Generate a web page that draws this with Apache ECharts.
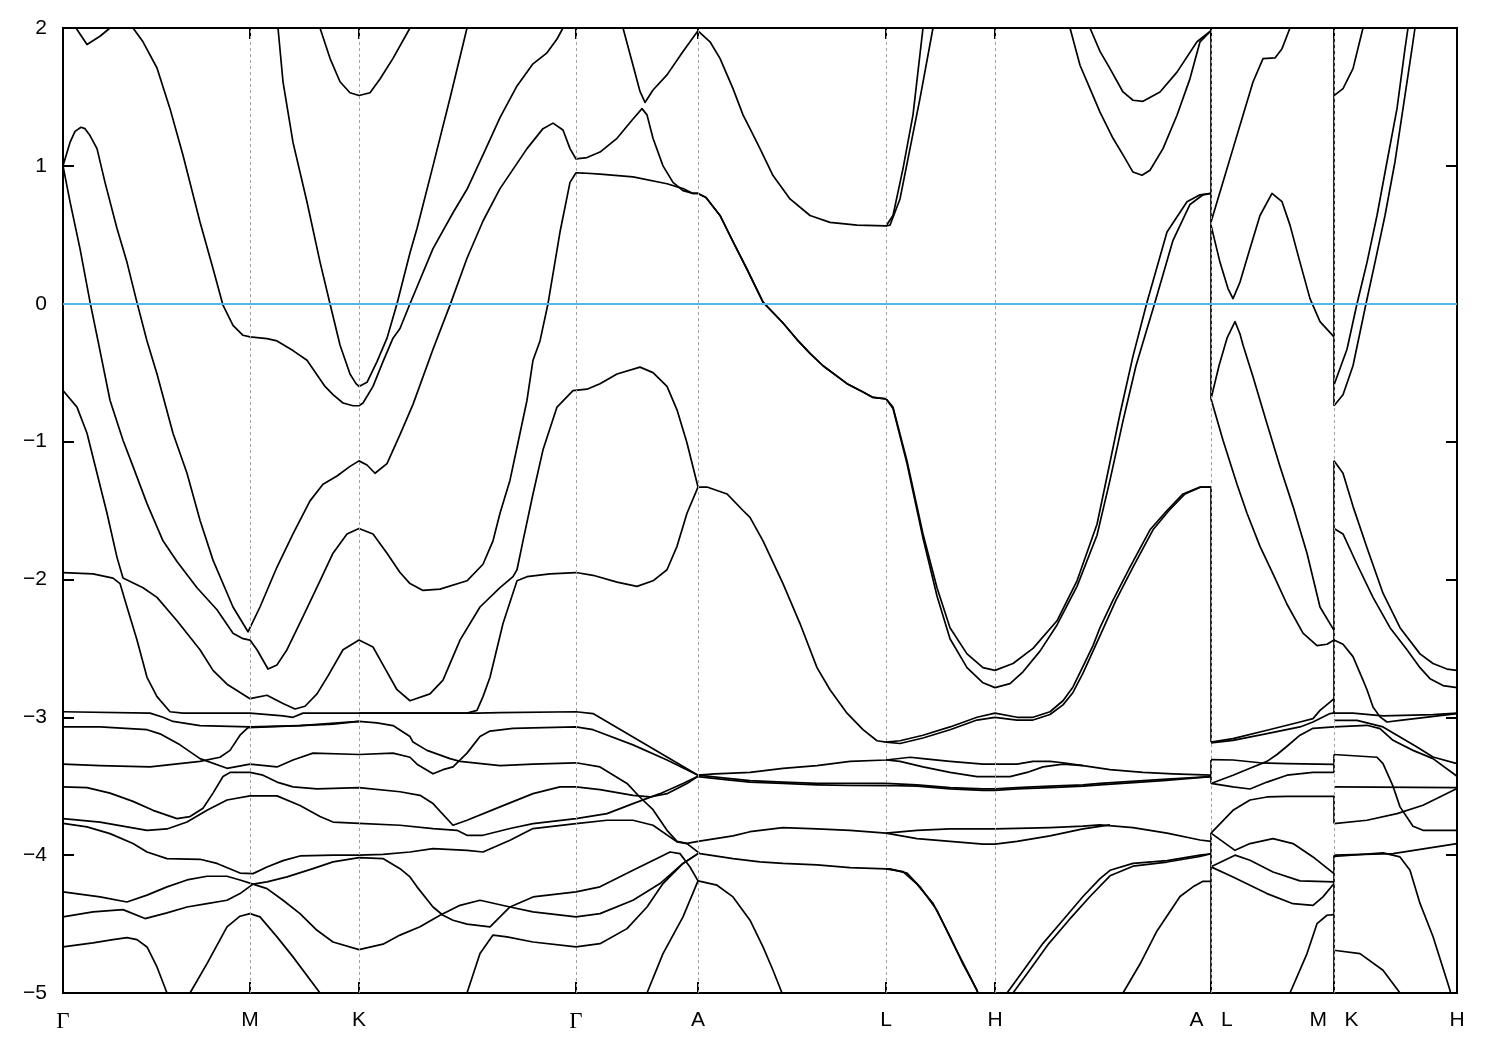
<!DOCTYPE html>
<html><head><meta charset="utf-8">
<script src="https://cdn.jsdelivr.net/npm/echarts/dist/echarts.min.js"></script>
<style>html,body{margin:0;padding:0;background:#fff}#c{width:1500px;height:1050px}</style>
</head><body><div id="c"></div>
<script>
// k-path positions (arb. units) and labels
const kTicks = [0,187,296,513,635,823,932,1148,1271,1394];
const kLabels = ['Γ','M','K','Γ','A','L','H','A   L','M   K','H'];
const eMin = -5, eMax = 2, eStep = 1;

// ---- band strands: [k, E(eV)] ----
const U1 = [[5,2.2],[13,2.0],[24,1.88],[37,1.94],[47,2.0],[55,2.15]];
const U2 = [[0,1.0],[7,1.17],[12,1.25],[18,1.28],[22,1.27],[27,1.22],[34,1.125],[42,0.88],[54,0.545],[64,0.30],[74,0.008],[84,-0.27],[94,-0.51],[110,-0.94],[124,-1.23],[137,-1.57],[150,-1.86],[170,-2.20],[185,-2.38],[187,-2.38],[197,-2.20],[214,-1.91],[230,-1.67],[247,-1.43],[260,-1.31],[274,-1.25],[287,-1.18],[296,-1.14],[304,-1.17],[312,-1.23],[324,-1.16],[337,-0.95],[350,-0.73],[370,-0.33],[387,-0.01],[404,0.33],[420,0.60],[437,0.835],[464,1.125],[480,1.27],[490,1.31],[500,1.26],[507,1.125],[513,1.05],[524,1.06],[537,1.10],[554,1.20],[570,1.34],[579,1.415],[584,1.37],[590,1.20],[600,1.00],[610,0.88],[620,0.82],[630,0.80],[635,0.80],[643,0.77],[657,0.64],[670,0.45],[684,0.25],[700,0.012],[720,-0.14],[734,-0.26],[747,-0.36],[760,-0.45],[784,-0.58],[800,-0.64],[810,-0.68],[823,-0.69],[830,-0.75],[844,-1.14],[860,-1.67],[874,-2.06],[887,-2.35],[904,-2.54],[920,-2.64],[932,-2.66],[950,-2.61],[970,-2.50],[994,-2.30],[1014,-2.01],[1034,-1.60],[1047,-1.15],[1057,-0.80],[1070,-0.38],[1084,0.01],[1104,0.52],[1124,0.74],[1137,0.79],[1148,0.80]];
const U3 = [[0,1.0],[7,0.74],[17,0.40],[27,0.013],[35,-0.27],[47,-0.70],[60,-0.99],[70,-1.18],[84,-1.45],[100,-1.72],[114,-1.87],[134,-2.06],[154,-2.22],[170,-2.39],[180,-2.43],[187,-2.44],[194,-2.51],[205,-2.65],[214,-2.62],[224,-2.51],[240,-2.27],[257,-2.01],[270,-1.81],[284,-1.67],[296,-1.63],[310,-1.67],[324,-1.81],[337,-1.95],[347,-2.03],[360,-2.08],[377,-2.07],[404,-2.01],[420,-1.89],[430,-1.72],[437,-1.52],[447,-1.28],[457,-0.94],[464,-0.70],[470,-0.41],[477,-0.27],[485,0.0],[497,0.52],[507,0.88],[513,0.95],[520,0.948],[537,0.94],[570,0.92],[604,0.87],[620,0.835],[630,0.80],[635,0.80],[643,0.77],[657,0.64],[670,0.45],[684,0.25],[700,0.012],[720,-0.14],[734,-0.26],[747,-0.36],[760,-0.45],[784,-0.58],[800,-0.64],[810,-0.68],[823,-0.69],[830,-0.76],[844,-1.16],[860,-1.70],[874,-2.12],[887,-2.43],[904,-2.64],[920,-2.75],[932,-2.785],[947,-2.756],[960,-2.67],[977,-2.52],[994,-2.33],[1014,-2.05],[1034,-1.68],[1047,-1.28],[1060,-0.85],[1073,-0.45],[1092,0.01],[1110,0.46],[1127,0.72],[1140,0.79],[1148,0.80]];
const U4 = [[65,2.15],[70,2.0],[80,1.90],[94,1.71],[107,1.415],[120,1.077],[137,0.593],[150,0.255],[160,-0.011],[170,-0.157],[180,-0.229],[187,-0.241],[204,-0.253],[214,-0.27],[230,-0.34],[244,-0.41],[262,-0.60],[270,-0.66],[280,-0.72],[290,-0.74],[296,-0.74],[300,-0.72],[310,-0.60],[320,-0.42],[330,-0.25],[337,-0.18],[347,0.0],[370,0.40],[390,0.66],[404,0.83],[420,1.08],[437,1.35],[454,1.58],[470,1.74],[484,1.82],[494,1.92],[500,2.0],[505,2.1]];
const U5 = [[213,2.15],[215,2.0],[220,1.61],[230,1.17],[244,0.738],[257,0.303],[267,0.0],[277,-0.30],[287,-0.51],[293,-0.58],[296,-0.60],[304,-0.57],[314,-0.42],[324,-0.25],[334,0.0],[337,0.085],[347,0.37],[354,0.545],[370,1.00],[387,1.49],[399,1.85],[404,2.0],[406,2.1]];
const U6 = [[255,2.1],[257,2.0],[267,1.78],[277,1.61],[287,1.53],[296,1.51],[307,1.53],[317,1.63],[330,1.78],[347,2.0],[350,2.1]];
const U7 = [[558,2.1],[560,2.0],[570,1.73],[577,1.54],[582,1.46],[590,1.55],[604,1.66],[620,1.83],[635,1.98],[647,1.90],[657,1.78],[670,1.56],[680,1.37],[687,1.27],[697,1.125],[710,0.93],[727,0.76],[747,0.64],[767,0.59],[794,0.57],[823,0.564],[830,0.64],[840,0.98],[850,1.37],[860,2.0],[862,2.1]];
const U8 = [[823,0.564],[827,0.57],[837,0.76],[847,1.125],[857,1.49],[870,2.0],[872,2.1]];
const U9 = [[1025,2.1],[1027,2.0],[1037,1.83],[1047,1.705],[1060,1.536],[1070,1.476],[1080,1.468],[1097,1.536],[1114,1.68],[1134,1.90],[1148,1.98]];
const U10 = [[1005,2.1],[1007,2.0],[1017,1.73],[1027,1.56],[1037,1.39],[1050,1.20],[1060,1.08],[1070,0.955],[1079,0.932],[1087,0.968],[1100,1.125],[1114,1.367],[1127,1.633],[1137,1.90],[1148,1.98]];
const N1 = [[1148,0.593],[1160,0.883],[1170,1.125],[1180,1.367],[1190,1.608],[1200,1.778],[1212,1.783],[1219,1.85],[1227,2.0],[1229,2.1]];
const N2 = [[1148,0.57],[1157,0.30],[1165,0.11],[1170,0.037],[1177,0.157],[1187,0.40],[1197,0.64],[1209,0.80],[1219,0.74],[1227,0.57],[1237,0.30],[1247,0.037],[1257,-0.13],[1271,-0.24]];
const N3 = [[1148,-0.69],[1156,-0.45],[1164,-0.25],[1172,-0.13],[1177,-0.22],[1180,-0.30],[1190,-0.53],[1204,-0.87],[1217,-1.18],[1230,-1.47],[1244,-1.81],[1257,-2.20],[1271,-2.37]];
const N4 = [[1148,-0.69],[1160,-0.99],[1174,-1.31],[1184,-1.52],[1197,-1.76],[1210,-1.96],[1224,-2.18],[1240,-2.39],[1254,-2.48],[1264,-2.47],[1271,-2.44]];
const K1 = [[1271,1.51],[1280,1.56],[1290,1.705],[1300,2.0],[1302,2.1]];
const K2 = [[1271,-0.59],[1277,-0.47],[1284,-0.33],[1294,0.0],[1304,0.30],[1314,0.64],[1324,1.03],[1334,1.415],[1342,1.85],[1345,2.0],[1346,2.1]];
const K3 = [[1271,-0.74],[1280,-0.66],[1290,-0.45],[1303,0.0],[1312,0.30],[1322,0.64],[1332,1.03],[1340,1.415],[1349,1.85],[1352,2.0],[1353,2.1]];
const K4 = [[1271,-1.14],[1280,-1.23],[1290,-1.47],[1304,-1.77],[1320,-2.10],[1337,-2.35],[1357,-2.54],[1370,-2.61],[1384,-2.65],[1394,-2.66]];
const K5 = [[1271,-1.63],[1280,-1.67],[1294,-1.89],[1310,-2.13],[1327,-2.35],[1344,-2.51],[1357,-2.64],[1367,-2.72],[1380,-2.77],[1394,-2.785]];
const K6 = [[1271,-2.44],[1280,-2.47],[1290,-2.56],[1300,-2.73],[1304,-2.80],[1310,-2.925],[1317,-2.997],[1324,-3.034],[1337,-3.022],[1394,-2.973]];
const A1 = [[635,-1.33],[644,-1.33],[664,-1.38],[680,-1.50],[687,-1.55],[700,-1.72],[720,-2.03],[737,-2.32],[754,-2.64],[767,-2.80],[784,-2.97],[800,-3.09],[814,-3.17],[823,-3.18],[837,-3.17],[860,-3.13],[887,-3.07],[914,-3.0],[932,-2.97],[954,-3.0],[970,-3.0],[987,-2.96],[1000,-2.88],[1010,-2.78],[1020,-2.63],[1030,-2.48],[1037,-2.35],[1050,-2.15],[1067,-1.91],[1087,-1.64],[1104,-1.50],[1120,-1.38],[1137,-1.33],[1148,-1.33]];
const A2 = [[823,-3.18],[837,-3.19],[860,-3.15],[887,-3.09],[914,-3.02],[932,-3.0],[954,-3.02],[970,-3.02],[987,-2.98],[1000,-2.91],[1010,-2.82],[1020,-2.68],[1030,-2.52],[1040,-2.36],[1053,-2.15],[1070,-1.91],[1090,-1.64],[1106,-1.50],[1122,-1.38],[1138,-1.33],[1148,-1.33]];
const L1 = [[0,-1.95],[30,-1.96],[50,-1.99],[57,-2.03],[64,-2.20],[74,-2.44],[84,-2.71],[94,-2.85],[107,-2.96],[120,-2.97],[187,-2.97],[220,-2.99],[230,-3.0],[240,-2.97],[296,-2.97],[337,-2.97],[404,-2.97],[414,-2.95],[420,-2.85],[427,-2.71],[440,-2.32],[454,-2.01],[464,-1.98],[487,-1.96],[513,-1.95],[530,-1.97],[554,-2.02],[574,-2.05],[590,-2.01],[604,-1.93],[614,-1.76],[624,-1.52],[635,-1.33]];
const L2 = [[0,-0.63],[14,-0.75],[24,-0.94],[34,-1.23],[44,-1.52],[54,-1.84],[60,-1.99],[80,-2.06],[94,-2.13],[114,-2.30],[137,-2.51],[150,-2.66],[164,-2.76],[187,-2.865],[204,-2.84],[220,-2.90],[232,-2.94],[242,-2.92],[254,-2.83],[265,-2.70],[280,-2.51],[296,-2.44],[310,-2.49],[320,-2.62],[334,-2.80],[347,-2.88],[367,-2.83],[380,-2.73],[397,-2.44],[417,-2.20],[437,-2.06],[450,-1.98],[454,-1.93],[460,-1.72],[470,-1.38],[480,-1.06],[494,-0.75],[510,-0.63],[524,-0.62],[537,-0.58],[554,-0.51],[577,-0.46],[590,-0.50],[604,-0.60],[614,-0.77],[624,-1.01],[635,-1.33]];
const L3 = [[0,-2.96],[87,-2.97],[100,-3.0],[110,-3.03],[137,-3.06],[187,-3.07],[237,-3.06],[270,-3.05],[296,-3.03],[314,-3.04],[330,-3.06],[347,-3.14],[350,-3.18],[364,-3.24],[387,-3.30],[397,-3.32],[437,-3.35],[470,-3.34],[513,-3.33],[537,-3.36],[564,-3.48],[577,-3.58],[590,-3.67],[604,-3.82],[614,-3.90],[624,-3.915],[635,-3.90],[670,-3.86],[687,-3.83],[720,-3.80],[754,-3.81],[787,-3.82],[823,-3.84],[854,-3.82],[887,-3.81],[932,-3.81],[987,-3.80],[1020,-3.79],[1037,-3.78],[1070,-3.80],[1104,-3.84],[1137,-3.89],[1148,-3.90]];
const L4 = [[0,-3.07],[37,-3.07],[84,-3.09],[97,-3.12],[117,-3.20],[137,-3.30],[164,-3.37],[187,-3.34],[214,-3.36],[230,-3.31],[250,-3.26],[296,-3.27],[330,-3.26],[347,-3.29],[354,-3.34],[370,-3.41],[380,-3.38],[390,-3.36],[404,-3.26],[417,-3.14],[427,-3.10],[450,-3.08],[470,-3.077],[513,-3.07],[530,-3.09],[570,-3.20],[604,-3.31],[635,-3.42]];
const L5 = [[0,-3.34],[37,-3.35],[87,-3.36],[137,-3.32],[157,-3.29],[167,-3.24],[177,-3.13],[185,-3.075],[187,-3.07],[237,-3.06],[296,-3.03]];
const L13 = [[296,-2.97],[414,-2.97],[437,-2.966],[513,-2.96],[530,-2.973],[570,-3.143],[604,-3.288],[635,-3.42]];
const L6 = [[0,-3.505],[24,-3.51],[47,-3.55],[70,-3.61],[90,-3.675],[114,-3.735],[127,-3.72],[140,-3.66],[150,-3.55],[160,-3.43],[167,-3.40],[187,-3.40],[200,-3.42],[214,-3.47],[230,-3.505],[254,-3.52],[296,-3.51],[337,-3.54],[357,-3.566],[370,-3.626],[390,-3.783],[404,-3.747],[437,-3.65],[470,-3.554],[497,-3.505],[513,-3.505],[537,-3.525],[570,-3.566],[587,-3.578],[604,-3.554],[624,-3.481],[635,-3.428]];
const L7 = [[0,-3.735],[37,-3.76],[64,-3.795],[84,-3.82],[104,-3.81],[124,-3.76],[144,-3.675],[164,-3.60],[187,-3.57],[214,-3.57],[237,-3.64],[257,-3.72],[270,-3.76],[296,-3.77],[337,-3.783],[370,-3.807],[394,-3.82],[404,-3.856],[420,-3.856],[447,-3.807],[470,-3.771],[513,-3.735],[544,-3.699],[570,-3.626],[597,-3.554],[620,-3.481],[635,-3.428]];
const L8 = [[0,-3.77],[24,-3.795],[47,-3.844],[70,-3.916],[84,-3.977],[104,-4.025],[137,-4.03],[154,-4.06],[177,-4.13],[190,-4.134],[204,-4.086],[220,-4.04],[237,-4.006],[270,-4.0],[296,-4.0],[320,-3.994],[347,-3.977],[370,-3.953],[404,-3.965],[420,-3.977],[447,-3.892],[470,-3.807],[513,-3.771],[544,-3.747],[570,-3.747],[590,-3.783],[614,-3.904],[624,-3.916],[637,-3.989],[670,-4.025],[697,-4.049],[720,-4.06],[754,-4.07],[787,-4.09],[823,-4.10]];
const L9 = [[0,-4.267],[37,-4.303],[64,-4.34],[84,-4.29],[104,-4.23],[124,-4.18],[144,-4.153],[164,-4.153],[177,-4.18],[190,-4.21],[204,-4.243],[220,-4.327],[237,-4.424],[254,-4.545],[270,-4.63],[296,-4.685],[320,-4.646],[337,-4.58],[357,-4.52],[377,-4.436],[397,-4.364],[417,-4.327],[447,-4.376],[470,-4.412],[513,-4.448],[537,-4.424],[570,-4.327],[597,-4.206],[620,-4.06],[635,-3.989]];
const L10 = [[0,-4.448],[30,-4.412],[60,-4.395],[82,-4.46],[104,-4.419],[124,-4.376],[144,-4.352],[164,-4.327],[177,-4.279],[190,-4.21],[204,-4.194],[224,-4.158],[250,-4.098],[270,-4.049],[296,-4.018],[320,-4.025],[337,-4.098],[347,-4.158],[354,-4.23],[370,-4.376],[380,-4.436],[390,-4.472],[404,-4.50],[427,-4.52],[437,-4.448],[447,-4.376],[470,-4.303],[513,-4.267],[537,-4.23],[570,-4.11],[597,-4.013],[607,-3.977],[617,-3.989],[627,-4.086],[635,-4.187]];
const L11 = [[0,-4.666],[30,-4.637],[50,-4.613],[64,-4.598],[74,-4.613],[84,-4.666],[94,-4.811],[104,-5.0],[108,-5.1]];
const L12 = [[122,-5.1],[127,-5.0],[144,-4.787],[164,-4.521],[177,-4.443],[187,-4.424],[197,-4.448],[214,-4.593],[230,-4.738],[257,-5.0],[263,-5.1]];
const L14 = [[400,-5.1],[404,-5.0],[417,-4.714],[430,-4.58],[444,-4.593],[470,-4.63],[513,-4.666],[537,-4.642],[564,-4.533],[584,-4.376],[600,-4.206],[620,-4.06],[635,-3.989]];
const L15 = [[580,-5.1],[584,-5.0],[600,-4.714],[620,-4.448],[635,-4.187],[654,-4.218],[670,-4.303],[687,-4.472],[700,-4.666],[710,-4.835],[719,-5.0],[722,-5.1]];
const M1 = [[635,-3.42],[652,-3.41],[670,-3.405],[687,-3.40],[720,-3.37],[754,-3.35],[787,-3.32],[823,-3.31],[847,-3.29],[860,-3.30],[887,-3.32],[920,-3.34],[932,-3.34],[954,-3.34],[970,-3.32],[987,-3.32],[1000,-3.33],[1020,-3.35],[1047,-3.38],[1080,-3.40],[1110,-3.41],[1148,-3.42]];
const M2 = [[823,-3.31],[837,-3.32],[860,-3.36],[887,-3.40],[914,-3.43],[932,-3.43],[947,-3.43],[964,-3.40],[980,-3.36],[1000,-3.34],[1020,-3.35]];
const M3 = [[635,-3.42],[660,-3.44],[687,-3.46],[720,-3.47],[754,-3.48],[787,-3.48],[823,-3.48],[854,-3.49],[887,-3.51],[920,-3.52],[932,-3.52],[954,-3.51],[987,-3.50],[1020,-3.49],[1037,-3.48],[1100,-3.45],[1148,-3.43]];
const M4 = [[635,-3.43],[660,-3.45],[687,-3.47],[720,-3.48],[754,-3.49],[787,-3.495],[823,-3.495],[854,-3.50],[887,-3.52],[920,-3.53],[932,-3.53],[954,-3.52],[987,-3.51],[1020,-3.50],[1037,-3.49],[1100,-3.46],[1148,-3.43]];
const M5 = [[823,-3.84],[854,-3.88],[887,-3.90],[920,-3.92],[932,-3.92],[954,-3.90],[987,-3.86],[1020,-3.81],[1047,-3.78]];
const M6 = [[823,-4.10],[840,-4.12],[854,-4.21],[870,-4.35],[887,-4.59],[900,-4.79],[914,-4.98],[918,-5.1]];
const M7 = [[823,-4.10],[827,-4.10],[844,-4.13],[857,-4.23],[874,-4.40],[890,-4.64],[907,-4.88],[922,-5.1]];
const M8 = [[942,-5.1],[944,-5.0],[960,-4.84],[980,-4.64],[1000,-4.47],[1020,-4.30],[1037,-4.17],[1047,-4.11],[1070,-4.06],[1104,-4.04],[1137,-4.00],[1148,-3.99]];
const M9 = [[948,-5.1],[950,-5.0],[966,-4.84],[986,-4.64],[1006,-4.47],[1027,-4.30],[1047,-4.15],[1070,-4.08],[1104,-4.05],[1137,-4.01],[1148,-3.99]];
const M10 = [[1058,-5.1],[1060,-5.0],[1077,-4.79],[1094,-4.55],[1117,-4.30],[1130,-4.23],[1140,-4.19],[1148,-4.19]];
const P1 = [[1148,-3.18],[1170,-3.155],[1204,-3.094],[1237,-3.034],[1250,-3.01],[1257,-2.95],[1267,-2.89],[1271,-2.865]];
const P2 = [[1148,-3.186],[1170,-3.167],[1204,-3.118],[1237,-3.07],[1250,-3.034],[1267,-2.973],[1271,-2.968]];
const P3 = [[1148,-3.307],[1170,-3.31],[1197,-3.33],[1224,-3.336],[1271,-3.341]];
const P4 = [[1148,-3.48],[1170,-3.42],[1187,-3.37],[1204,-3.32],[1214,-3.27],[1224,-3.21],[1237,-3.13],[1250,-3.08],[1271,-3.07]];
const P5 = [[1148,-3.48],[1170,-3.505],[1187,-3.52],[1204,-3.47],[1224,-3.42],[1250,-3.40],[1271,-3.40]];
const P6 = [[1148,-3.84],[1170,-3.675],[1187,-3.60],[1204,-3.578],[1224,-3.573],[1271,-3.573]];
const P7 = [[1148,-3.84],[1172,-3.965],[1187,-3.916],[1210,-3.88],[1230,-3.916],[1250,-4.013],[1271,-4.134]];
const P8 = [[1148,-4.085],[1172,-4.0],[1187,-4.037],[1210,-4.122],[1237,-4.187],[1271,-4.194]];
const P9 = [[1148,-4.085],[1170,-4.158],[1204,-4.279],[1230,-4.352],[1250,-4.364],[1260,-4.303],[1271,-4.206]];
const P10 = [[1225,-5.1],[1227,-5.0],[1244,-4.714],[1254,-4.497],[1264,-4.436],[1271,-4.431]];
const Q1 = [[1271,-2.97],[1290,-2.97],[1320,-2.99],[1370,-2.98],[1394,-2.97]];
const Q2 = [[1271,-3.022],[1294,-3.022],[1320,-3.07],[1354,-3.215],[1370,-3.288],[1394,-3.336]];
const Q3 = [[1271,-3.07],[1304,-3.058],[1317,-3.082],[1330,-3.167],[1350,-3.24],[1370,-3.30],[1394,-3.428]];
const Q4 = [[1271,-3.27],[1314,-3.29],[1320,-3.336],[1330,-3.50],[1337,-3.65],[1350,-3.79],[1360,-3.82],[1394,-3.82]];
const Q5 = [[1271,-3.505],[1394,-3.51]];
const Q6 = [[1271,-3.771],[1304,-3.747],[1334,-3.699],[1360,-3.638],[1394,-3.517]];
const Q7 = [[1271,-4.0],[1330,-3.989],[1394,-3.916]];
const Q8 = [[1271,-4.01],[1320,-3.984],[1337,-4.013],[1347,-4.11],[1357,-4.35],[1370,-4.59],[1387,-4.98],[1390,-5.1]];
const Q9 = [[1271,-4.69],[1297,-4.714],[1320,-4.835],[1337,-5.0],[1341,-5.1]];
// band jumps at the path discontinuities (A|L and M|K)
const J1 = [[1148,2.2],[1148,-0.69]];
const J2 = [[1148,-1.33],[1148,-3.18]];
const J3 = [[1148,-3.31],[1148,-3.48]];
const J4 = [[1148,-3.84],[1148,-5.2]];
const J5 = [[1271,2.2],[1271,-0.74]];
const J6 = [[1271,-1.14],[1271,-2.97]];
const J7 = [[1271,-3.27],[1271,-3.40]];
const J8 = [[1271,-3.57],[1271,-3.77]];
const J9 = [[1271,-4.0],[1271,-5.2]];

const strands = [U1,U2,U3,U4,U5,U6,U7,U8,U9,U10,N1,N2,N3,N4,K1,K2,K3,K4,K5,K6,A1,A2,
  L1,L2,L3,L4,L5,L13,L6,L7,L8,L9,L10,L11,L12,L14,L15,M1,M2,M3,M4,M5,M6,M7,M8,M9,M10,
  P1,P2,P3,P4,P5,P6,P7,P8,P9,P10,Q1,Q2,Q3,Q4,Q5,Q6,Q7,Q8,Q9,J1,J2,J3,J4,J5,J6,J7,J8,J9];

const chart = echarts.init(document.getElementById('c'), null, {renderer:'canvas'});
const font = 'Liberation Sans, Arial, sans-serif';
const tickStyle = {color:'#000', width:2};
const series = [];
series.push({
  type:'line', data:[], silent:true, z:1,
  markLine:{symbol:'none', silent:true, animation:false, label:{show:false},
    lineStyle:{type:[3,3], color:'#a0a0a0', width:1},
    data: kTicks.slice(1,-1).map(k => ({xAxis:k}))}
});
strands.forEach(s => series.push({
  type:'line', data:s, showSymbol:false, symbol:'none', silent:true, z:2, clip:true,
  lineStyle:{color:'#000', width:1.7, join:'round'}, animation:false
}));
series.push({
  type:'line', data:[], silent:true, z:3,
  markLine:{symbol:'none', silent:true, animation:false, label:{show:false},
    lineStyle:{type:'solid', color:'#56B4E9', width:2},
    data:[{yAxis:0}]}
});

const xAxisBase = (pos, showLabel) => ({
  type:'value', min:kTicks[0], max:kTicks[kTicks.length-1], position:pos,
  axisLine:{show:false, onZero:false}, splitLine:{show:false},
  axisTick:{show:true, inside:true, length:11, customValues:kTicks, lineStyle:tickStyle},
  axisLabel: showLabel ? {customValues:kTicks, fontSize:21, color:'#000', margin:17, fontFamily:font,
       formatter:(v)=>{const i=kTicks.indexOf(v); const t=i<0?'':kLabels[i]; return t==='Γ'?'{g|Γ}':t;},
       rich:{g:{fontFamily:'Liberation Serif, DejaVu Serif, serif', fontSize:23, color:'#000'}}} : {show:false}
});
const yAxisBase = (pos, showLabel) => ({
  type:'value', min:eMin, max:eMax, interval:eStep, position:pos,
  axisLine:{show:false, onZero:false}, splitLine:{show:false},
  axisTick:{show:true, inside:true, length:11, lineStyle:tickStyle},
  axisLabel: showLabel ? {fontSize:21, color:'#000', margin:16, fontFamily:font,
       formatter:(v)=>String(v).replace('-', '\u2212')} : {show:false}
});

chart.setOption({
  animation:false,
  backgroundColor:'#fff',
  grid:{left:63, right:43, top:28, bottom:57, show:true, borderColor:'#000', borderWidth:2, backgroundColor:'transparent'},
  xAxis:[xAxisBase('bottom', true), xAxisBase('top', false)],
  yAxis:[yAxisBase('left', true), yAxisBase('right', false)],
  series: series
});
</script>
</body></html>
